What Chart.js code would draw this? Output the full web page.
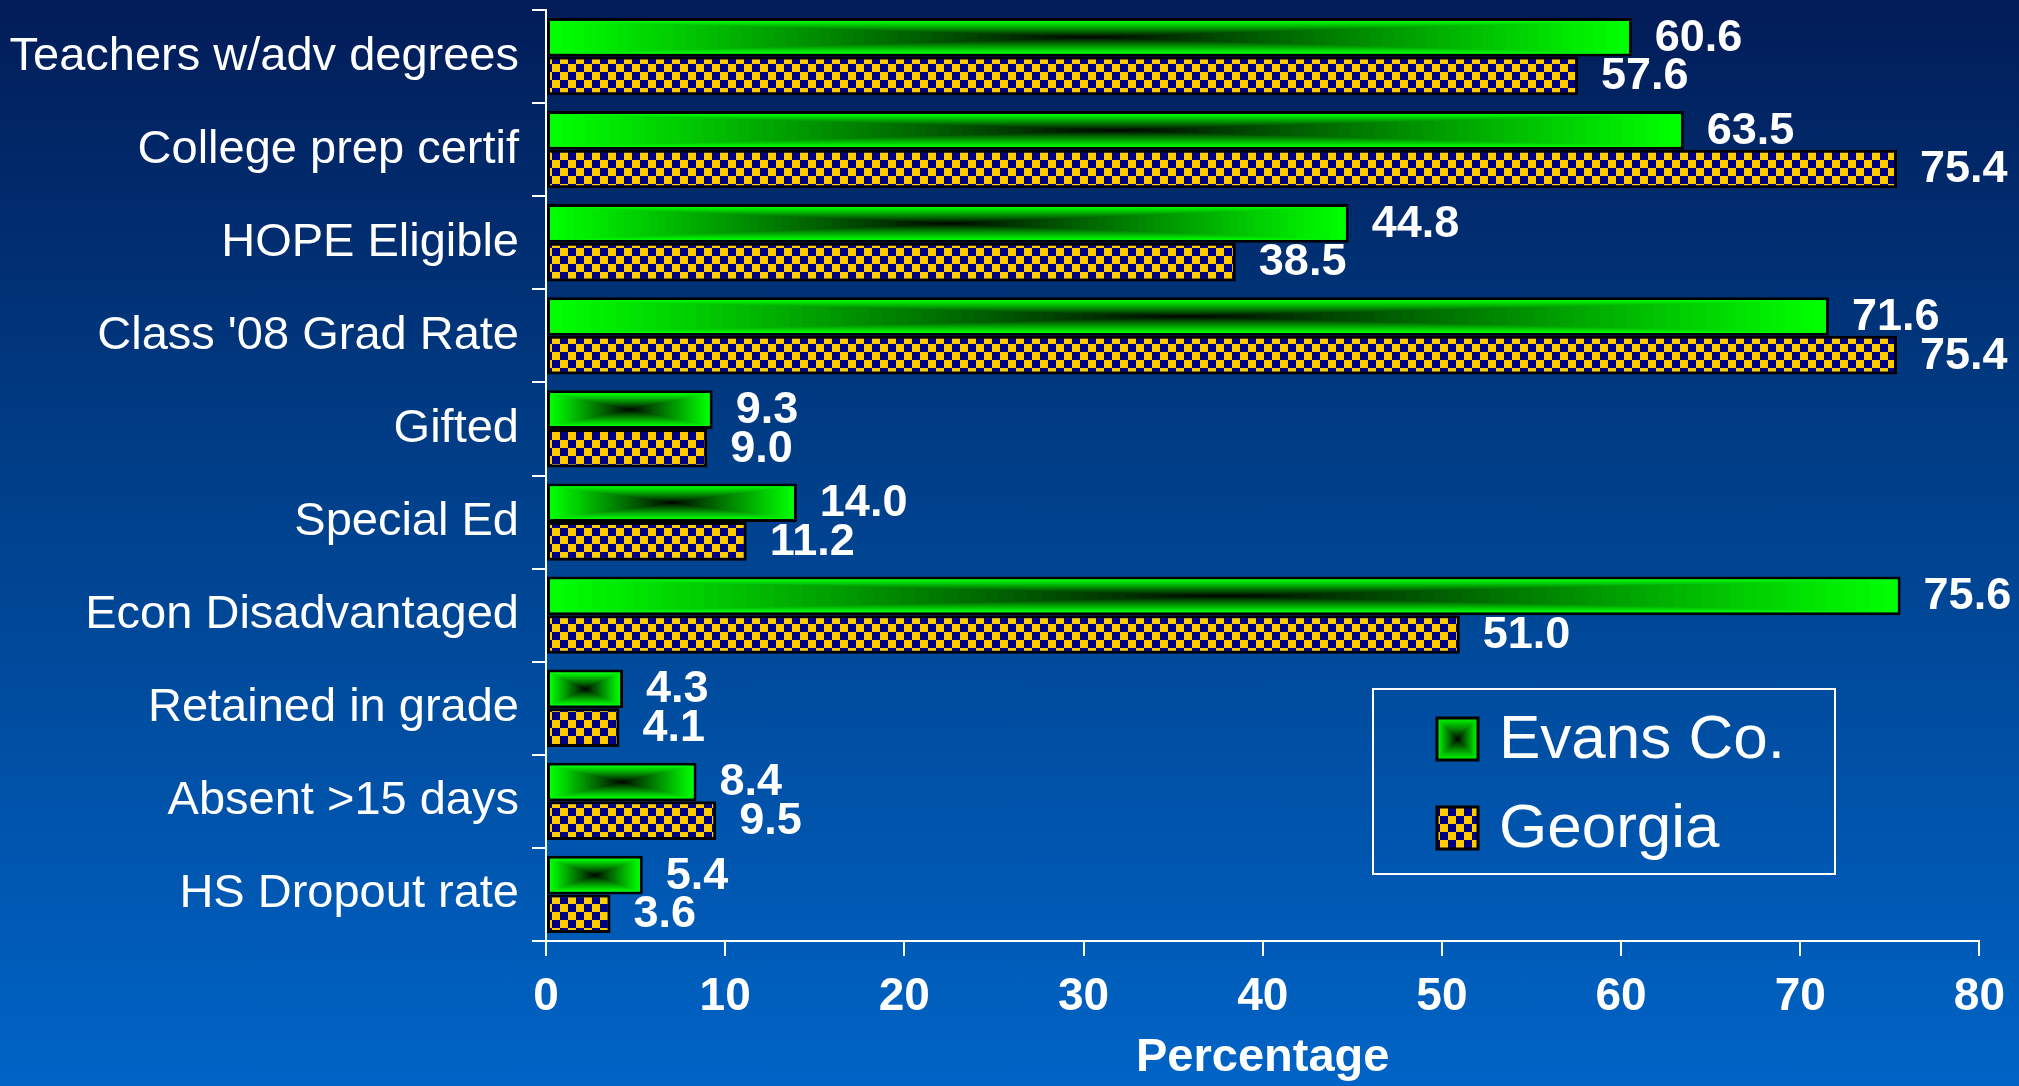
<!DOCTYPE html>
<html>
<head>
<meta charset="utf-8">
<script src="https://cdn.jsdelivr.net/npm/chart.js@4/dist/chart.umd.min.js"></script>
<style>
  html, body { margin: 0; padding: 0; }
  body {
    width: 2019px; height: 1086px; overflow: hidden;
    background: linear-gradient(to bottom, #021c58 0%, #003c85 40%, #0064c6 100%);
  }
  #chart { display: block; }
</style>
</head>
<body>
<canvas id="chart" width="2019" height="1086"></canvas>
<script>
var categories = [
    'Teachers w/adv degrees', 'College prep certif', 'HOPE Eligible', "Class '08 Grad Rate",
    'Gifted', 'Special Ed', 'Econ Disadvantaged', 'Retained in grade', 'Absent >15 days', 'HS Dropout rate'
];
var evansValues = [60.6, 63.5, 44.8, 71.6, 9.3, 14.0, 75.6, 4.3, 8.4, 5.4];
var georgiaValues = [57.6, 75.4, 38.5, 75.4, 9.0, 11.2, 51.0, 4.1, 9.5, 3.6];
var seriesNames = ['Evans Co.', 'Georgia'];
var xTicks = [0, 10, 20, 30, 40, 50, 60, 70, 80];
var axisTitle = 'Percentage';

var plain = '"Liberation Sans", Arial, sans-serif';

// yellow / navy checkerboard used for the Georgia bars
function checker() {
    var c = document.createElement('canvas');
    c.width = 16; c.height = 16;
    var g = c.getContext('2d');
    g.fillStyle = '#ffcc00'; g.fillRect(0, 0, 16, 16);
    g.fillStyle = '#000080';
    g.fillRect(0, 0, 8, 8); g.fillRect(8, 8, 8, 8);
    return document.getElementById('chart').getContext('2d').createPattern(c, 'repeat');
}
var checkPattern = checker();

// green -> black "from centre" rectangle gradient
function centreGradient(ctx, x, y, w, h) {
    var steps = 48;
    for (var i = 0; i < steps; i++) {
        var t = i / steps;
        var s = 1 - t;
        var g = Math.round(255 * Math.pow(1 - t, 0.9));
        ctx.fillStyle = 'rgb(0,' + g + ',0)';
        var rw = w * s, rh = h * s;
        ctx.fillRect(x + (w - rw) / 2, y + (h - rh) / 2, rw, rh);
    }
}

var barExtras = {
    id: 'barExtras',
    afterDatasetDraw: function(chart, args) {
        if (args.index !== 0) return;
        var ctx = chart.ctx;
        ctx.save();
        args.meta.data.forEach(function(bar) {
            var p = bar.getProps(['x', 'y', 'base', 'height'], true);
            var left = Math.min(p.base, p.x) + 3, right = Math.max(p.base, p.x) - 3;
            centreGradient(ctx, left, p.y - p.height / 2 + 3, right - left, p.height - 6);
        });
        ctx.restore();
    },
    afterDatasetsDraw: function(chart) {
        var ctx = chart.ctx;
        ctx.save();
        ctx.fillStyle = '#ffffff';
        ctx.font = 'bold 45px ' + plain;
        ctx.textAlign = 'left';
        ctx.textBaseline = 'middle';
        chart.data.datasets.forEach(function(ds, di) {
            chart.getDatasetMeta(di).data.forEach(function(bar, i) {
                ctx.fillText(ds.data[i].toFixed(1), bar.x + 23, bar.y + 1);
            });
        });
        ctx.restore();
    },
    afterDraw: function(chart) {
        var ctx = chart.ctx, a = chart.chartArea;
        var bx = a.left + 827, by = a.top + 679, bw = 462, bh = 185;
        ctx.save();
        ctx.strokeStyle = '#ffffff';
        ctx.lineWidth = 2;
        ctx.strokeRect(bx, by, bw, bh);
        ctx.font = '62px ' + plain;
        ctx.textBaseline = 'middle';
        ctx.textAlign = 'left';
        seriesNames.forEach(function(name, i) {
            var sy = by + 29 + i * 89;
            if (i === 0) {
                ctx.fillStyle = '#00ff00';
                ctx.fillRect(bx + 64, sy, 41, 42);
                centreGradient(ctx, bx + 64, sy, 41, 42);
            } else {
                ctx.fillStyle = checkPattern;
                ctx.fillRect(bx + 64, sy, 41, 42);
            }
            ctx.strokeStyle = '#000000';
            ctx.lineWidth = 3;
            ctx.strokeRect(bx + 64, sy, 41, 42);
            ctx.fillStyle = '#ffffff';
            ctx.fillText(name, bx + 126, sy + 23);
        });
        ctx.restore();
    }
};

new Chart(document.getElementById('chart'), {
    type: 'bar',
    data: {
        labels: categories,
        datasets: [{
            label: seriesNames[0],
            data: evansValues,
            backgroundColor: '#00ff00',
            borderColor: '#000000',
            borderWidth: 3,
            borderSkipped: false
        }, {
            label: seriesNames[1],
            data: georgiaValues,
            backgroundColor: checkPattern,
            borderColor: '#000000',
            borderWidth: 3,
            borderSkipped: false
        }]
    },
    options: {
        indexAxis: 'y',
        responsive: false,
        devicePixelRatio: 1,
        animation: false,
        categoryPercentage: 0.83,
        barPercentage: 1.0,
        layout: { padding: { top: 10, right: 39, bottom: 0, left: 0 } },
        plugins: { legend: { display: false }, tooltip: { enabled: false } },
        scales: {
            x: {
                min: 0, max: 80,
                afterBuildTicks: function(s) { s.ticks = xTicks.map(function(v) { return { value: v }; }); },
                afterFit: function(s) { s.height = 145; },
                grid: { drawOnChartArea: false, drawTicks: true, tickLength: 15, color: '#ffffff', lineWidth: 2 },
                border: { color: '#ffffff', width: 2 },
                ticks: {
                    color: '#ffffff', padding: 14,
                    font: { family: plain, size: 46, weight: 'bold' }
                },
                title: {
                    display: true, text: axisTitle, color: '#ffffff',
                    padding: { top: 0, bottom: 0 },
                    font: { family: plain, size: 47, weight: 'bold' }
                }
            },
            y: {
                afterFit: function(s) { s.width = 546; s.paddingTop = 0; s.paddingBottom = 0; },
                grid: { offset: true, drawOnChartArea: false, drawTicks: true, tickLength: 14, color: '#ffffff', lineWidth: 2 },
                border: { color: '#ffffff', width: 2 },
                ticks: {
                    color: '#ffffff', padding: 13,
                    font: { family: plain, size: 47 }
                }
            }
        }
    },
    plugins: [barExtras]
});
</script>
</body>
</html>
